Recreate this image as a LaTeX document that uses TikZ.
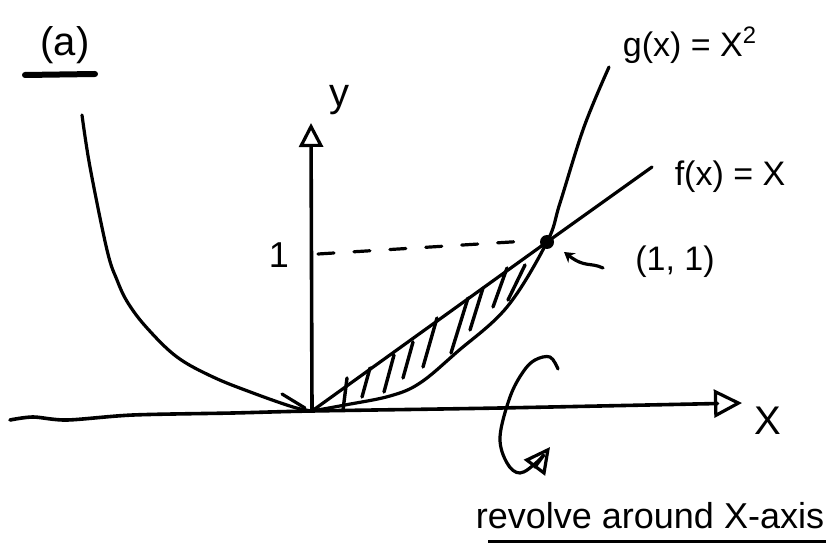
\documentclass[tikz,border=0pt]{standalone}
\usepackage{fontspec}
\setmainfont{Liberation Sans}
\usetikzlibrary{arrows.meta}
\begin{document}
\begin{tikzpicture}[x=0.5pt,y=-0.5pt,
  curve/.style={line width=1.6pt, line cap=round, line join=round},
  axis/.style={line width=1.8pt, line cap=round, line join=round},
  hatch/.style={line width=1.7pt, line cap=round},
  lbl/.style={inner sep=0pt, font=\fontsize{17}{20}\selectfont},
  opentip/.style={-{Triangle[open,length=#1,width=#1,line width=1.6pt]}}]
\useasboundingbox (0,0) rectangle (828,544);
\coordinate (O) at (312,411);
\coordinate (P) at (547,242);
\coordinate (yT) at (311,123);
\coordinate (fEnd) at (652,167);
\coordinate (dashL) at (318,254);
\coordinate (dashR) at (527,241);
% x-axis
\draw[axis, opentip=14pt] plot[smooth, tension=0.5] coordinates {(10,420) (33,417) (67,420) (133,415) (233,413) (312,411) (500,408) (742,403)};
% y-axis
\draw[axis, opentip=12pt] (O) -- (yT);
% f(x)=x
\draw[curve] (O) -- (P) -- (fEnd);
% g(x)=x^2 right branch
\draw[curve] plot[smooth, tension=0.6] coordinates {(312,411) (345,405) (390,396) (420,383) (457,352) (507,307) (547,242) (560,203) (584,127) (609,67)};
% left branch
\draw[curve] plot[smooth, tension=0.6] coordinates {(82,115) (90,167) (107,250) (117,280) (128,303) (147,328) (177,357) (213,377) (253,393) (293,407) (312,411)};
\draw[curve] (282,394) -- (305,408);
% hatching
\draw[hatch] (347,378) -- (343,410);
\draw[hatch] (370,368) -- (362,397);
\draw[hatch] (394,355) -- (384,392);
\draw[hatch] (413,342) -- (403,378);
\draw[hatch] (437,318) -- (423,367);
\draw[hatch] (468,298) -- (451,353);
\draw[hatch] (483,288) -- (470,330);
\draw[hatch] (507,268) -- (493,307);
\draw[hatch] (525,265) -- (508,300);
% dashed guide
\draw[curve, dash pattern=on 8pt off 10pt] (dashL) -- (dashR);
% point (1,1)
\fill (P) circle (7);
\draw[curve, {Stealth[length=5pt,width=6pt]}-] (564,252) .. controls (585,268) and (590,262) .. (603,268);
% revolve arrow
\draw[curve, opentip=13pt] plot[smooth, tension=0.6] coordinates {(558,369) (550,357) (535,360) (523,372) (510,397) (500,437) (507,463) (520,473) (537,462) (550,447)};
% labels
\node[lbl, font=\fontsize{20}{24}\selectfont] (a) at (65,45) {(a)};
\draw[line width=3pt, line cap=round] (25,75) -- (95,74);
\node[lbl, font=\fontsize{20}{24}\selectfont] (ylab) at (339,100) {y};
\node[lbl, font=\fontsize{18}{22}\selectfont] (one) at (279,255) {1};
\node[lbl] (glab) at (690,45) {g(x) = X\textsuperscript{2}};
\node[lbl] (flab) at (730,177) {f(x) = X};
\node[lbl] (pt) at (675,262) {(1, 1)};
\node[lbl, font=\fontsize{20}{24}\selectfont] (xlab) at (768,421) {X};
\node[lbl, font=\fontsize{18}{22}\selectfont] (rev) at (650,516) {revolve around X-axis};
\draw[line width=1.5pt] (488,541) -- (826,541);
\end{tikzpicture}
\end{document}
